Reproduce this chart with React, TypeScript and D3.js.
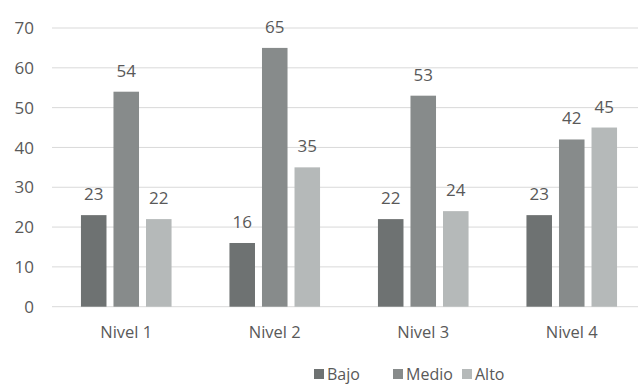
import { FC } from "react";
import * as d3 from "d3";

const categories = ["Nivel 1", "Nivel 2", "Nivel 3", "Nivel 4"];
const seriesNames = ["Bajo", "Medio", "Alto"];
const bajo = [23, 16, 22, 23];
const medio = [54, 65, 53, 42];
const alto = [22, 35, 24, 45];
const yTicks = [0, 10, 20, 30, 40, 50, 60, 70];

const colors = ["#6e7272", "#878b8b", "#b5b9b9"];
const values = [bajo, medio, alto];

const width = 638;
const height = 385;
const font = "'Open Sans', 'Noto Sans', sans-serif";
const textColor = "#595959";

const App: FC = () => {
  const x0 = d3.scaleBand().domain(categories).range([52, 646]);
  const x1 = d3
    .scaleBand()
    .domain(seriesNames)
    .range([0, x0.bandwidth()])
    .paddingInner(0.215)
    .paddingOuter(0.89);
  const y = d3.scaleLinear().domain([0, 70]).range([306.7, 28]);

  // legend layout
  const legendX = [314, 393, 462];

  return (
    <svg
      width={width}
      height={height}
      style={{ position: "absolute", left: 0, top: 0, background: "#fff" }}
      fontFamily={font}
    >
      {yTicks.map((t) => (
        <g key={t}>
          <line x1={52} x2={width} y1={y(t)} y2={y(t)} stroke="#d9d9d9" strokeWidth={1} />
          <text x={34} y={y(t)} dy="0.36em" textAnchor="end" fontSize={17} fill={textColor}>
            {t}
          </text>
        </g>
      ))}
      {categories.map((c, i) => (
        <g key={c} transform={`translate(${x0(c)},0)`}>
          {seriesNames.map((s, j) => {
            const v = values[j][i];
            const bx = x1(s)!;
            return (
              <g key={s}>
                <rect x={bx} y={y(v)} width={x1.bandwidth()} height={y(0) - y(v)} fill={colors[j]} />
                <text
                  x={bx + x1.bandwidth() / 2}
                  y={y(v) - 15}
                  textAnchor="middle"
                  fontSize={17}
                  fill={textColor}
                >
                  {v}
                </text>
              </g>
            );
          })}
          <text x={x0.bandwidth() / 2} y={338} textAnchor="middle" fontSize={16.5} fill={textColor}>
            {c}
          </text>
        </g>
      ))}
      {seriesNames.map((s, j) => (
        <g key={s} transform={`translate(${legendX[j]},0)`}>
          <rect x={0} y={369} width={10} height={10} fill={colors[j]} />
          <text x={13} y={379.5} fontSize={16} fill={textColor}>
            {s}
          </text>
        </g>
      ))}
    </svg>
  );
};

export default App;
